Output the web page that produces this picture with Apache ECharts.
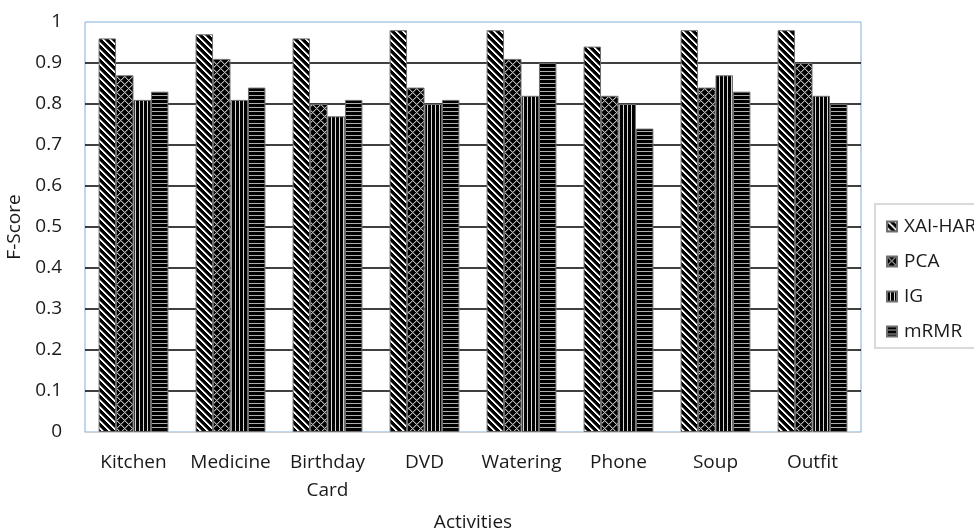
<!DOCTYPE html>
<html>
<head>
<meta charset="utf-8">
<script src="https://cdn.jsdelivr.net/npm/echarts@6/dist/echarts.min.js"></script>
<style>
  html, body { margin: 0; padding: 0; background: #ffffff; }
  #chart { width: 974px; height: 529px; }
</style>
</head>
<body>
<div id="chart"></div>
<script>
// Activities on the x axis
const categories = ['Kitchen', 'Medicine', 'Birthday\nCard', 'DVD', 'Watering', 'Phone', 'Soup', 'Outfit'];

// F-Score per feature selection method
const xaiHar = [0.96, 0.97, 0.96, 0.98, 0.98, 0.94, 0.98, 0.98];
const pca    = [0.87, 0.91, 0.80, 0.84, 0.91, 0.82, 0.84, 0.90];
const ig     = [0.81, 0.81, 0.77, 0.80, 0.82, 0.80, 0.87, 0.82];
const mrmr   = [0.83, 0.84, 0.81, 0.81, 0.90, 0.74, 0.83, 0.80];

const seriesNames = ['XAI-HAR', 'PCA', 'IG', 'mRMR'];
const seriesData = [xaiHar, pca, ig, mrmr];

// Monochrome fill patterns, built pixel by pixel on small tiles
function makeTile(size, painter) {
  const c = document.createElement('canvas');
  c.width = size; c.height = size;
  const ctx = c.getContext('2d');
  const img = ctx.createImageData(size, size);
  for (let y = 0; y < size; y++) {
    for (let x = 0; x < size; x++) {
      const v = painter(x, y);
      const k = (y * size + x) * 4;
      img.data[k] = v; img.data[k + 1] = v; img.data[k + 2] = v; img.data[k + 3] = 255;
    }
  }
  ctx.putImageData(img, 0, 0);
  return { image: c, repeat: 'repeat' };
}

const patterns = [
  // back-diagonal stripes
  makeTile(7, (x, y) => { const d = ((x - y) % 7 + 7) % 7; return d < 2 ? 255 : (d === 2 ? 110 : 0); }),
  // diamond lattice
  makeTile(8, (x, y) => {
    const a = (x + y) % 8, b = ((x - y) % 8 + 8) % 8;
    return (a === 0 || b === 0) ? 185 : (a === 1 || b === 1 ? 70 : 0);
  }),
  // vertical stripes
  makeTile(4, (x, y) => x % 4 === 3 ? 215 : 0),
  // horizontal stripes
  makeTile(4, (x, y) => y % 4 === 3 ? 175 : 0)
];

const FONT = '"Open Sans", sans-serif';
const INK = '#1a1a1a';

const chart = echarts.init(document.getElementById('chart'), null, { renderer: 'canvas' });

chart.setOption({
  animation: false,
  backgroundColor: '#ffffff',
  textStyle: { fontFamily: FONT },
  grid: {
    left: 85, right: 113, top: 22, bottom: 97,
    outerBoundsMode: 'none',
    containLabel: false,
    show: true, borderColor: '#82aedc', borderWidth: 1, backgroundColor: 'transparent'
  },
  legend: {
    orient: 'vertical',
    left: 875, top: 204,
    data: seriesNames,
    icon: 'rect',
    itemWidth: 10, itemHeight: 10, itemGap: 16,
    padding: [13, 10, 7, 11],
    borderColor: '#d9d9d9', borderWidth: 2,
    textStyle: { fontFamily: FONT, fontSize: 19, color: INK, padding: [0, 0, 0, 2] }
  },
  xAxis: {
    type: 'category',
    data: categories,
    name: 'Activities',
    nameLocation: 'middle',
    nameGap: 81,
    nameTextStyle: { fontFamily: FONT, fontSize: 19, color: INK },
    axisLine: { show: true, lineStyle: { color: '#d0d0d0', width: 1 } },
    axisTick: { show: false },
    axisLabel: { fontFamily: FONT, fontSize: 19, color: INK, margin: 17, lineHeight: 28, interval: 0 },
    splitLine: { show: false }
  },
  yAxis: {
    type: 'value',
    min: 0, max: 1, interval: 0.1,
    name: 'F-Score',
    nameLocation: 'middle',
    nameGap: 52,
    nameTextStyle: { fontFamily: FONT, fontSize: 19, color: INK },
    axisLine: { show: false },
    axisTick: { show: false },
    axisLabel: {
      fontFamily: FONT, fontSize: 19, color: INK, margin: 23,
      formatter: v => String(Math.round(v * 10) / 10)
    },
    splitLine: {
      show: true, showMinLine: false, showMaxLine: false,
      lineStyle: { color: '#000000', width: 1.5 }
    }
  },
  series: seriesNames.map((name, i) => ({
    name: name,
    type: 'bar',
    data: seriesData[i],
    barGap: '0%',
    barCategoryGap: '28%',
    itemStyle: { color: patterns[i], borderColor: '#6e6e6e', borderWidth: 1 }
  }))
});
</script>
</body>
</html>
